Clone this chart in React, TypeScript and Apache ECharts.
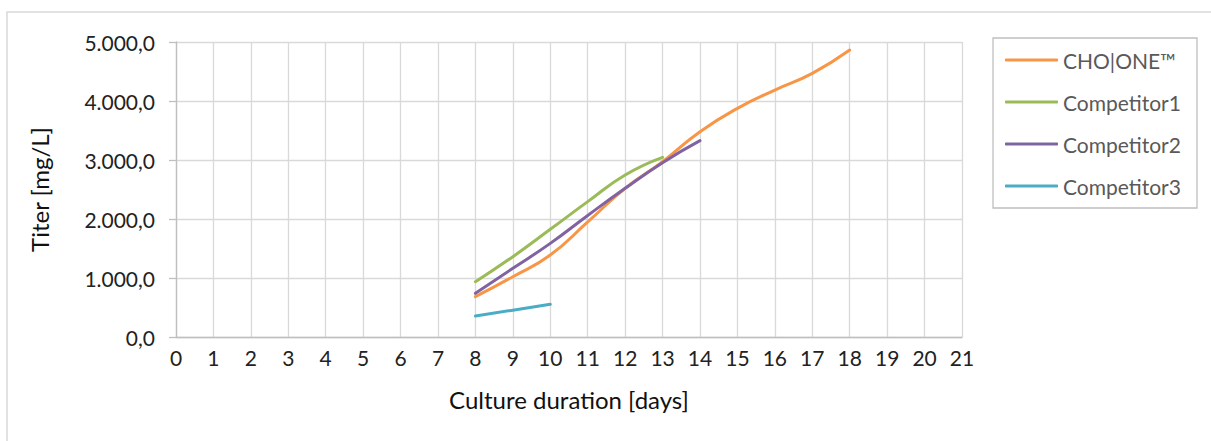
import React, { useEffect, useRef } from "react";
import * as echarts from "echarts";

const xTicks = [0, 21];
const yTicks = [0, 5000, 1000];

const choDays = [8, 9, 10, 11, 12, 13, 14, 15, 16, 17, 18];
const choValues = [683, 1022, 1390, 1950, 2520, 2972, 3480, 3876, 4186, 4469, 4864];

const comp1Days = [8, 9, 10, 11, 12, 13];
const comp1Values = [938, 1361, 1825, 2294, 2746, 3045];

const comp2Days = [8, 9, 10, 11, 12, 13, 14];
const comp2Values = [740, 1164, 1587, 2060, 2520, 2955, 3328];

const comp3Days = [8, 9, 10];
const comp3Values = [356, 455, 554];

const seriesNames = ["CHO|ONE\u2122", "Competitor1", "Competitor2", "Competitor3"];
const seriesColors = ["#F79646", "#9BBB59", "#8064A2", "#4BACC6"];

const FONT = "Lato";

function pairs(xs: number[], ys: number[]) {
  return xs.map((x, i) => [x, ys[i]]);
}

function fmt(v: number) {
  const s = Math.round(v).toString().replace(/\B(?=(\d{3})+(?!\d))/g, ".");
  return s + ",0";
}

export default function App() {
  const ref = useRef<HTMLDivElement>(null);
  useEffect(() => {
    if (!ref.current) return;
    const chart = echarts.init(ref.current, undefined, { renderer: "svg" });
    const datasets = [
      pairs(choDays, choValues),
      pairs(comp1Days, comp1Values),
      pairs(comp2Days, comp2Values),
      pairs(comp3Days, comp3Values),
    ];
    chart.setOption({
      animation: false,
      backgroundColor: "#ffffff",
      grid: { left: 176, top: 42, right: 249, bottom: 104, containLabel: false },
      graphic: [
        {
          type: "rect",
          shape: { x: 7, y: 12, width: 1400, height: 600 },
          style: { fill: "none", stroke: "#d9d9d9", lineWidth: 1.5 },
          silent: true,
        },
        {
          type: "rect",
          shape: { x: 993, y: 38, width: 204, height: 170 },
          style: { fill: "none", stroke: "#bfbfbf", lineWidth: 1.3 },
          silent: true,
        },
      ],
      legend: {
        orient: "vertical",
        left: 1005,
        top: 48,
        padding: 0,
        icon: "roundRect",
        itemWidth: 53,
        itemHeight: 3,
        itemGap: 18,
        data: seriesNames,
        textStyle: { fontFamily: FONT, fontSize: 21, color: "#595959", lineHeight: 24 },
      },
      xAxis: {
        type: "value",
        min: xTicks[0],
        max: xTicks[1],
        interval: 1,
        name: "Culture duration [days]",
        nameLocation: "middle",
        nameGap: 50,
        nameTextStyle: { fontFamily: FONT, fontSize: 24, color: "#111" },
        axisLine: { show: true, lineStyle: { color: "#bfbfbf", width: 1.3 } },
        axisTick: { show: false },
        axisLabel: { fontFamily: FONT, fontSize: 21, color: "#222", margin: 10 },
        splitLine: { show: true, lineStyle: { color: "#d9d9d9", width: 1.3 } },
      },
      yAxis: {
        type: "value",
        min: yTicks[0],
        max: yTicks[1],
        interval: yTicks[2],
        name: "Titer [mg/L]",
        nameLocation: "middle",
        nameGap: 125,
        nameTextStyle: { fontFamily: FONT, fontSize: 24, color: "#111" },
        axisLine: { show: true, lineStyle: { color: "#bfbfbf", width: 1.3 } },
        axisTick: { show: true, length: 7, lineStyle: { color: "#bfbfbf", width: 1.3 } },
        axisLabel: { fontFamily: FONT, fontSize: 21, color: "#222", margin: 21, formatter: fmt },
        splitLine: { show: true, lineStyle: { color: "#d9d9d9", width: 1.3 } },
      },
      series: seriesNames.map((name, i) => ({
        name,
        type: "line",
        data: datasets[i],
        smooth: true,
        symbol: "none",
        showSymbol: false,
        color: seriesColors[i],
        itemStyle: { color: seriesColors[i] },
        lineStyle: { color: seriesColors[i], width: 3, cap: "round" },
      })),
    });
    return () => chart.dispose();
  }, []);
  return (
    <div
      ref={ref}
      style={{ position: "fixed", left: 0, top: 0, width: 1211, height: 441, background: "#fff" }}
    />
  );
}
